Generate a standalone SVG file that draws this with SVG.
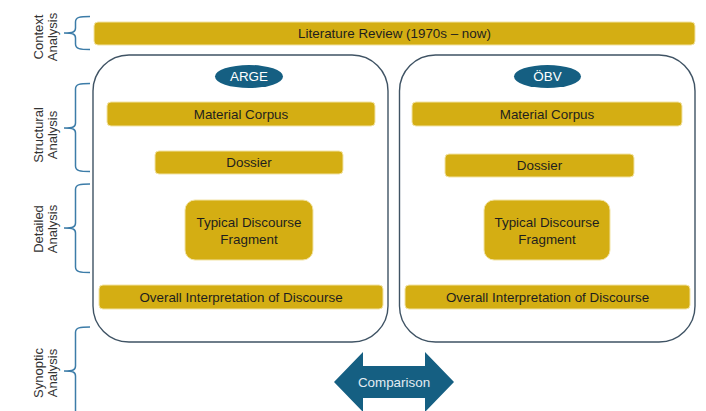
<svg xmlns="http://www.w3.org/2000/svg" width="706" height="411" viewBox="0 0 706 411">
<style>
.gold{fill:#D4AE13;stroke:#F2E3A4;stroke-width:1}
.bt{font-family:"Liberation Sans",Arial,sans-serif;font-size:13.4px;fill:#1E1E1E;text-anchor:middle;dominant-baseline:central}
.lbl{font-family:"Liberation Sans",Arial,sans-serif;font-size:13px;fill:#333;text-anchor:middle}
.frame{fill:#FFFFFF;stroke:#3F5364;stroke-width:1.4}
.teal{fill:#155F82}
.wt{font-family:"Liberation Sans",Arial,sans-serif;font-size:13.4px;fill:#FFFFFF;text-anchor:middle;dominant-baseline:central}
.brace{fill:none;stroke:#3C7CA8;stroke-width:1.5}
</style>
<rect width="706" height="411" fill="#FFFFFF"/>

<g id="labels">
<g transform="translate(0,37) rotate(-90)"><text class="lbl" x="0" y="42.5">Context</text><text class="lbl" x="0" y="57">Analysis</text></g>
<g transform="translate(0,135) rotate(-90)"><text class="lbl" x="0" y="42.5">Structural</text><text class="lbl" x="0" y="57">Analysis</text></g>
<g transform="translate(0,229) rotate(-90)"><text class="lbl" x="0" y="42.5">Detailed</text><text class="lbl" x="0" y="57">Analysis</text></g>
<g transform="translate(0,373) rotate(-90)"><text class="lbl" x="0" y="42.5">Synoptic</text><text class="lbl" x="0" y="57">Analysis</text></g>
</g>

<g id="braces">
<path class="brace" d="M90,16.5 C80,16.5 75.5,17 75.5,22 V28 C75.5,32 73,33 64,33 C73,33 75.5,34 75.5,38 V44 C75.5,49 80,49.5 90,49.5"/>
<path class="brace" d="M90,83.5 C80,83.5 75.5,84 75.5,89 V123 C75.5,127 73,128 64,128 C73,128 75.5,129 75.5,133 V166 C75.5,171 80,171.5 90,171.5"/>
<path class="brace" d="M90,184 C80,184 75.5,184.5 75.5,189.5 V223 C75.5,227 73,228 64,228 C73,228 75.5,229 75.5,233 V267 C75.5,272 80,272.5 90,272.5"/>
<path class="brace" d="M90,327 C80,327 75.5,327.5 75.5,332.5 V366 C75.5,370 73,371 64,371 C73,371 75.5,372 75.5,376 V420"/>
</g>

<g id="literature">
<rect class="gold" x="94" y="22" width="601" height="23" rx="4"/>
<text class="bt" x="394.5" y="33.5">Literature Review (1970s – now)</text>
</g>

<g id="arge-frame">
<rect class="frame" x="93" y="55" width="295" height="287" rx="36"/>
</g>
<g id="obv-frame">
<rect class="frame" x="399.5" y="55" width="295.5" height="287" rx="36"/>
</g>

<g id="arge">
<ellipse class="teal" cx="249" cy="76.5" rx="34" ry="11.5"/>
<text class="wt" x="249" y="76.5">ARGE</text>
</g>
<g id="obv">
<ellipse class="teal" cx="547.5" cy="76.5" rx="33.5" ry="11.5"/>
<text class="wt" x="547.5" y="76.5">ÖBV</text>
</g>

<g id="arge-corpus">
<rect class="gold" x="107" y="102" width="268" height="24" rx="4"/>
<text class="bt" x="241" y="114">Material Corpus</text>
</g>
<g id="obv-corpus">
<rect class="gold" x="412" y="102" width="270" height="24" rx="4"/>
<text class="bt" x="547" y="114">Material Corpus</text>
</g>

<g id="arge-dossier">
<rect class="gold" x="155" y="151" width="188" height="23" rx="4"/>
<text class="bt" x="249" y="162.5">Dossier</text>
</g>
<g id="obv-dossier">
<rect class="gold" x="445" y="154" width="189" height="23" rx="4"/>
<text class="bt" x="539.5" y="165.5">Dossier</text>
</g>

<g id="arge-fragment">
<rect class="gold" x="185" y="200" width="128" height="60" rx="10"/>
<text class="bt" x="249" y="222">Typical Discourse</text>
<text class="bt" x="249" y="239">Fragment</text>
</g>
<g id="obv-fragment">
<rect class="gold" x="484" y="200" width="126" height="60" rx="10"/>
<text class="bt" x="547" y="222">Typical Discourse</text>
<text class="bt" x="547" y="239">Fragment</text>
</g>

<g id="arge-interpretation">
<rect class="gold" x="99" y="285" width="284" height="24" rx="4"/>
<text class="bt" x="241" y="297">Overall Interpretation of Discourse</text>
</g>
<g id="obv-interpretation">
<rect class="gold" x="405" y="285" width="285" height="24" rx="4"/>
<text class="bt" x="547.5" y="297">Overall Interpretation of Discourse</text>
</g>

<g id="connectors">
<g id="comparison">
<path class="teal" d="M334,382 L363,352 V366 H425 V352 L454,382 L425,412 V398 H363 V412 Z"/>
<text class="wt" x="394" y="382" style="fill:#E3ECF2">Comparison</text>
</g>
</g>
</svg>
